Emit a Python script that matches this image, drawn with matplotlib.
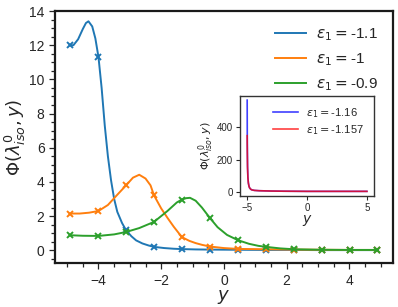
import numpy as np
import matplotlib
matplotlib.use("Agg")
import matplotlib.pyplot as plt
from matplotlib.ticker import AutoMinorLocator

plt.rcParams['font.family'] = ['Liberation Sans', 'DejaVu Sans']
plt.rcParams['text.color'] = '0.15'
plt.rcParams['axes.labelcolor'] = '0.15'
plt.rcParams['xtick.color'] = '0.15'
plt.rcParams['ytick.color'] = '0.15'

# sampled points (markers)
y_pts = [-4.9, -4.009, -3.118, -2.227, -1.336, -0.445, 0.445, 1.336, 2.227, 3.118, 4.009, 4.9]
blue_pts = [12.0, 11.3, 1.17, 0.2, 0.07, 0.04, 0.03, 0.02, 0.02, 0.01, 0.01, 0.01]
orange_pts = [2.15, 2.3, 3.8, 3.22, 0.77, 0.22, 0.08, 0.06, 0.04, 0.03, 0.02, 0.02]
green_pts = [0.88, 0.84, 1.07, 1.66, 2.97, 1.9, 0.59, 0.2, 0.06, 0.03, 0.02, 0.02]

# smooth curves
blue_cx = [-4.9, -4.8, -4.65, -4.5, -4.4, -4.32, -4.2, -4.1, -4.0, -3.9, -3.8, -3.7, -3.6,
           -3.5, -3.4, -3.25, -3.12, -2.95, -2.8, -2.6, -2.4, -2.23, -1.9, -1.6, -1.34,
           -0.9, -0.45, 0.45, 1.34, 2.23, 3.12, 4.01, 4.9]
blue_cy = [12.0, 12.0, 12.35, 12.95, 13.3, 13.4, 13.1, 12.4, 11.3, 9.5, 7.3, 5.5, 4.1,
           3.0, 2.25, 1.6, 1.17, 0.82, 0.58, 0.4, 0.28, 0.2, 0.13, 0.09, 0.07,
           0.05, 0.04, 0.03, 0.02, 0.02, 0.01, 0.01, 0.01]

orange_cx = [-4.9, -4.6, -4.3, -4.0, -3.7, -3.4, -3.12, -2.9, -2.7, -2.5, -2.34, -2.23,
             -2.0, -1.8, -1.6, -1.34, -1.1, -0.9, -0.7, -0.45, 0.0, 0.45, 0.9, 1.34,
             2.23, 3.12, 4.01, 4.9]
orange_cy = [2.15, 2.15, 2.2, 2.3, 2.65, 3.25, 3.8, 4.25, 4.42, 4.2, 3.8, 3.22,
             2.45, 1.9, 1.38, 0.77, 0.55, 0.42, 0.32, 0.22, 0.13, 0.08, 0.07, 0.06,
             0.04, 0.03, 0.02, 0.02]

green_cx = [-4.9, -4.5, -4.0, -3.5, -3.12, -2.7, -2.23, -1.8, -1.5, -1.34, -1.2, -1.08,
            -0.9, -0.7, -0.45, -0.2, 0.1, 0.45, 0.8, 1.1, 1.34, 1.8, 2.23, 3.12, 4.01, 4.9]
green_cy = [0.88, 0.85, 0.84, 0.93, 1.07, 1.3, 1.66, 2.3, 2.8, 2.97, 3.05, 3.07,
            2.9, 2.5, 1.9, 1.35, 0.9, 0.59, 0.38, 0.26, 0.2, 0.11, 0.06, 0.03, 0.02, 0.02]

labels = ['-1.1', '-1', '-0.9']

# inset curves
ins_x = [-5.0, -4.99, -4.97, -4.94, -4.9, -4.85, -4.8, -4.7, -4.6, -4.4, -4.0, -3.0,
         -2.0, 0.0, 2.0, 4.0, 5.0]
ins_blue = [570, 300, 160, 90, 55, 35, 25, 16, 12, 9, 7, 5, 4, 3, 3, 3, 3]
ins_red = [349, 250, 150, 88, 55, 35, 25, 16, 12, 9, 7, 5, 4, 3, 3, 3, 3]
ins_labels = ['-1.16', '-1.157']

fig = plt.figure(figsize=(3.98, 3.07), dpi=100)
ax = fig.add_axes([0.138, 0.143, 0.849, 0.821])

colors = ['#1f77b4', '#ff7f0e', '#2ca02c']
curves = [(blue_cx, blue_cy, blue_pts), (orange_cx, orange_cy, orange_pts),
          (green_cx, green_cy, green_pts)]
for (cx, cy, pts), c, lab in zip(curves, colors, labels):
    ax.plot(cx, cy, color=c, lw=1.4, label=r'$\varepsilon_1 = $' + lab)
    ax.plot(y_pts, pts, 'x', color=c, ms=5, mew=1.4)

ax.set_xlim(-5.39, 5.39)
ax.set_ylim(-0.75, 14)
ax.set_yticks([0, 2, 4, 6, 8, 10, 12, 14])
ax.set_xticks([-4, -2, 0, 2, 4])
ax.xaxis.set_minor_locator(AutoMinorLocator(4))
ax.yaxis.set_minor_locator(AutoMinorLocator(4))
ax.tick_params(which='both', direction='out', labelsize=10, width=0.9)
ax.tick_params(which='major', length=4)
ax.tick_params(which='minor', length=3)
for s in ax.spines.values():
    s.set_linewidth(1.6)
    s.set_color('0.1')
ax.set_xlabel(r'$y$', fontsize=13, labelpad=0)
ax.set_ylabel(r'$\Phi(\lambda^0_{iso}, y)$', fontsize=13, labelpad=1)
ax.legend(loc='upper right', frameon=False, fontsize=11, handlelength=2.0,
          handletextpad=0.65, labelspacing=0.55, borderaxespad=0.6)

# inset
ins = fig.add_axes([0.603, 0.362, 0.337, 0.326])
ins.plot(ins_x, ins_blue, color='blue', lw=1.2, alpha=0.75, label=r'$\varepsilon_1 = $' + ins_labels[0])
ins.plot(ins_x, ins_red, color='red', lw=1.2, alpha=0.75, label=r'$\varepsilon_1 = $' + ins_labels[1])
ins.set_xlim(-5.6, 5.6)
ins.set_ylim(-25, 597)
ins.set_xticks([-5, 0, 5])
ins.set_yticks([0, 200, 400])
ins.tick_params(direction='out', labelsize=7, length=3, width=0.8, pad=2)
for s in ins.spines.values():
    s.set_linewidth(1.0)
    s.set_color('0.2')
ins.set_xlabel(r'$y$', fontsize=10, labelpad=0)
ins.set_ylabel(r'$\Phi(\lambda^0_{iso}, y)$', fontsize=8, labelpad=1)
ins.legend(loc='upper right', frameon=False, fontsize=8, handlelength=2.2,
           handletextpad=0.8, labelspacing=0.3)

fig.savefig('out.png', dpi=100)
